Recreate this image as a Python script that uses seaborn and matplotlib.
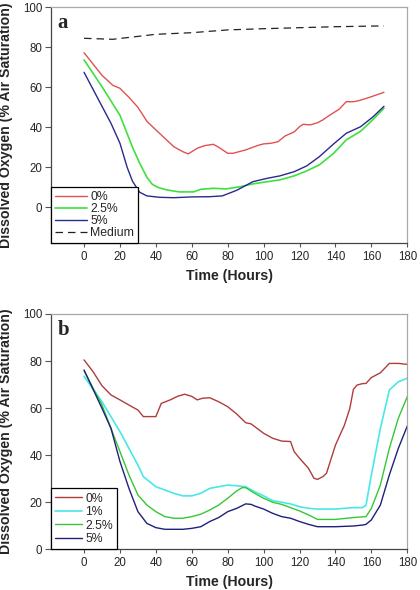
import numpy as np
import pandas as pd
import matplotlib
matplotlib.use("Agg")
import matplotlib.pyplot as plt
import seaborn as sns

# ---- Panel a data ----
a_x_0 = [0, 10, 16, 20, 25, 30, 35, 40, 45, 50, 55, 58, 60, 63, 67, 72, 75, 80, 83, 90, 97, 100, 104, 108, 112, 117, 120, 122, 126, 130, 133, 137, 142, 146, 150, 153, 160, 167]
a_y_0 = [77.3, 66, 61, 59.5, 55, 50, 43, 38.7, 34.5, 30.3, 27.8, 26.7, 27.8, 29.5, 30.8, 31.5, 30, 27, 27, 28.7, 31, 31.7, 32, 32.8, 35.7, 37.7, 40.3, 41.5, 41.2, 42.3, 43.7, 46.2, 49, 52.8, 52.8, 53.3, 55.3, 57.5]
a_x_25 = [0, 10, 20, 27, 31, 35, 38, 41, 46, 53, 61, 65, 72, 79, 87, 94, 102, 109, 117, 124, 131, 139, 146, 154, 161, 167]
a_y_25 = [73.7, 60.3, 46, 30, 22, 15, 11.5, 10, 8.7, 7.7, 7.7, 9, 9.5, 9.2, 10.3, 11.7, 12.8, 13.7, 15.7, 18.2, 21.2, 27, 33.7, 38, 44, 49.5]
a_x_5 = [0, 5, 10, 15, 20, 24, 27, 31, 35, 42, 50, 60, 70, 77, 85, 94, 102, 109, 117, 124, 131, 139, 146, 154, 161, 167]
a_y_5 = [67.5, 59, 50.5, 42, 32, 20, 13, 7.5, 5.7, 5, 4.8, 5.2, 5.3, 5.7, 8.5, 12.8, 14.5, 15.7, 17.8, 20.7, 25.3, 31.7, 37, 40.3, 45.3, 50.5]
a_x_med = [0, 16, 40, 60, 80, 100, 120, 140, 167]
a_y_med = [84.5, 84, 86.5, 87.3, 88.7, 89.3, 89.8, 90.3, 90.7]

# ---- Panel b data ----
b_x_0 = [0, 5, 10, 15, 20, 25, 30, 33, 40, 43, 48, 52, 56, 60, 63, 66, 70, 75, 80, 85, 90, 93, 100, 105, 110, 115, 117, 120, 125, 128, 130, 133, 135, 140, 145, 148, 150, 152, 155, 157, 160, 165, 170, 175, 180]
b_y_0 = [80.5, 75.5, 69.5, 65.6, 63.5, 61.3, 59.2, 56.4, 56.4, 62, 63.5, 65, 65.9, 65, 63.5, 64.2, 64.4, 62.7, 60.6, 57.5, 53.8, 53.3, 49.3, 47.2, 46, 45.8, 41.5, 38.7, 34.4, 30.2, 29.7, 30.9, 32.3, 44.3, 52.8, 59.9, 68, 69.8, 70.4, 70.5, 73, 75, 79, 79, 78.6]
b_x_1 = [0, 10, 20, 30, 33, 40, 45, 50, 55, 60, 65, 70, 75, 80, 85, 90, 95, 100, 105, 110, 115, 120, 125, 130, 140, 150, 155, 157, 160, 165, 170, 175, 180]
b_y_1 = [73.5, 62.7, 50, 35.8, 30.9, 26.6, 25.2, 23.8, 22.7, 22.7, 23.8, 25.9, 26.6, 27.3, 27, 26.6, 24.5, 22.7, 20.7, 20, 19.3, 18.1, 17.4, 17.1, 17.1, 17.7, 17.7, 18.8, 31.6, 51.4, 67.7, 71.2, 72.7]
b_x_25 = [0, 10, 20, 25, 30, 35, 40, 45, 50, 55, 60, 65, 70, 75, 80, 85, 88, 90, 95, 100, 105, 110, 115, 120, 125, 130, 140, 150, 157, 160, 165, 170, 175, 180]
b_y_25 = [75.8, 61.3, 41.5, 31.6, 23.1, 18.8, 16, 13.9, 13.2, 13.2, 13.9, 14.9, 16.7, 18.8, 21.7, 24.8, 26.2, 26.2, 23.8, 21.7, 20, 19.1, 17.7, 16.3, 14.6, 12.7, 12.7, 13.5, 13.9, 17.4, 27.3, 42.9, 55.7, 64.9]
b_x_5 = [0, 10, 15, 20, 25, 30, 35, 40, 45, 55, 60, 65, 70, 75, 80, 85, 90, 93, 95, 100, 105, 110, 115, 120, 125, 130, 140, 150, 155, 157, 160, 165, 170, 175, 180]
b_y_5 = [76.2, 59.9, 51.4, 37.3, 25.9, 16, 11, 9.2, 8.5, 8.5, 8.9, 9.6, 11.8, 13.5, 16, 17.4, 19.3, 19.1, 18.4, 17.1, 15.3, 13.9, 13.2, 11.8, 10.6, 9.6, 9.6, 9.9, 10.3, 10.6, 12.5, 18.8, 31.6, 42.9, 52.4]

x_ticks = [0, 20, 40, 60, 80, 100, 120, 140, 160, 180]
y_ticks = [0, 20, 40, 60, 80, 100]

sns.set_style("ticks")
plt.rcParams['font.family'] = ['Liberation Sans', 'DejaVu Sans']

fig = plt.figure(figsize=(4.2, 5.9), dpi=100)
ax_a = fig.add_axes([51/420, 1-243.3/590, (407.3-51)/420, (243.3-7.3)/590])
ax_b = fig.add_axes([51/420, 1-549.3/590, (407.3-51)/420, (549.3-314)/590])

def style_axes(ax, ylim, letter, hlen, lspace):
    ax.set_xlim(-18.4, 180)
    ax.set_ylim(*ylim)
    ax.set_xticks(x_ticks)
    ax.set_yticks(y_ticks)
    ax.tick_params(axis='both', labelsize=8.3, direction='out', width=0.8, color='#555555')
    ax.tick_params(axis='x', length=2.6, pad=3)
    ax.tick_params(axis='y', length=4.3, pad=2)
    for s in ['top', 'right']:
        ax.spines[s].set_color('#a8a8a8')
        ax.spines[s].set_linewidth(0.9)
    for s in ['left', 'bottom']:
        ax.spines[s].set_color('#444444')
        ax.spines[s].set_linewidth(0.9)
    ax.set_xlabel('Time (Hours)', fontsize=10.2, fontweight='bold')
    ax.set_ylabel('Dissolved Oxygen (% Air Saturation)', fontsize=10.2, fontweight='bold')
    h = ax.get_position().height * 590
    ax.xaxis.set_label_coords(0.5, -26.0 / h)
    ax.yaxis.set_label_coords(-37.5 / 356.3, 0.5)
    ax.text(0.018, 0.975, letter, transform=ax.transAxes, ha='left', va='top',
            fontsize=15, fontweight='bold', family='Liberation Serif')
    leg = ax.legend(loc='lower left', borderaxespad=0, fancybox=False, edgecolor='black',
                    framealpha=1, fontsize=8.8, handlelength=hlen, labelspacing=lspace,
                    borderpad=0.35, handletextpad=0.25)
    leg.get_frame().set_linewidth(0.9)

sns.lineplot(x=a_x_0, y=a_y_0, ax=ax_a, color='#e05252', lw=1.0, label='0%')
sns.lineplot(x=a_x_25, y=a_y_25, ax=ax_a, color='#3ee03e', lw=1.2, label='2.5%')
sns.lineplot(x=a_x_5, y=a_y_5, ax=ax_a, color='#2a2a8a', lw=1.0, label='5%')
sns.lineplot(x=a_x_med, y=a_y_med, ax=ax_a, color='#222222', lw=0.9, label='Medium', linestyle=(0, (6, 4)))
style_axes(ax_a, (-18, 100), 'a', 2.6, 0.0)

sns.lineplot(x=b_x_0, y=b_y_0, ax=ax_b, color='#b03c3c', lw=1.0, label='0%')
sns.lineplot(x=b_x_1, y=b_y_1, ax=ax_b, color='#48e8e8', lw=1.2, label='1%')
sns.lineplot(x=b_x_25, y=b_y_25, ax=ax_b, color='#34c834', lw=1.0, label='2.5%')
sns.lineplot(x=b_x_5, y=b_y_5, ax=ax_b, color='#20207a', lw=1.0, label='5%')
style_axes(ax_b, (0, 100), 'b', 2.2, 0.12)

fig.savefig('out.png', dpi=100)
